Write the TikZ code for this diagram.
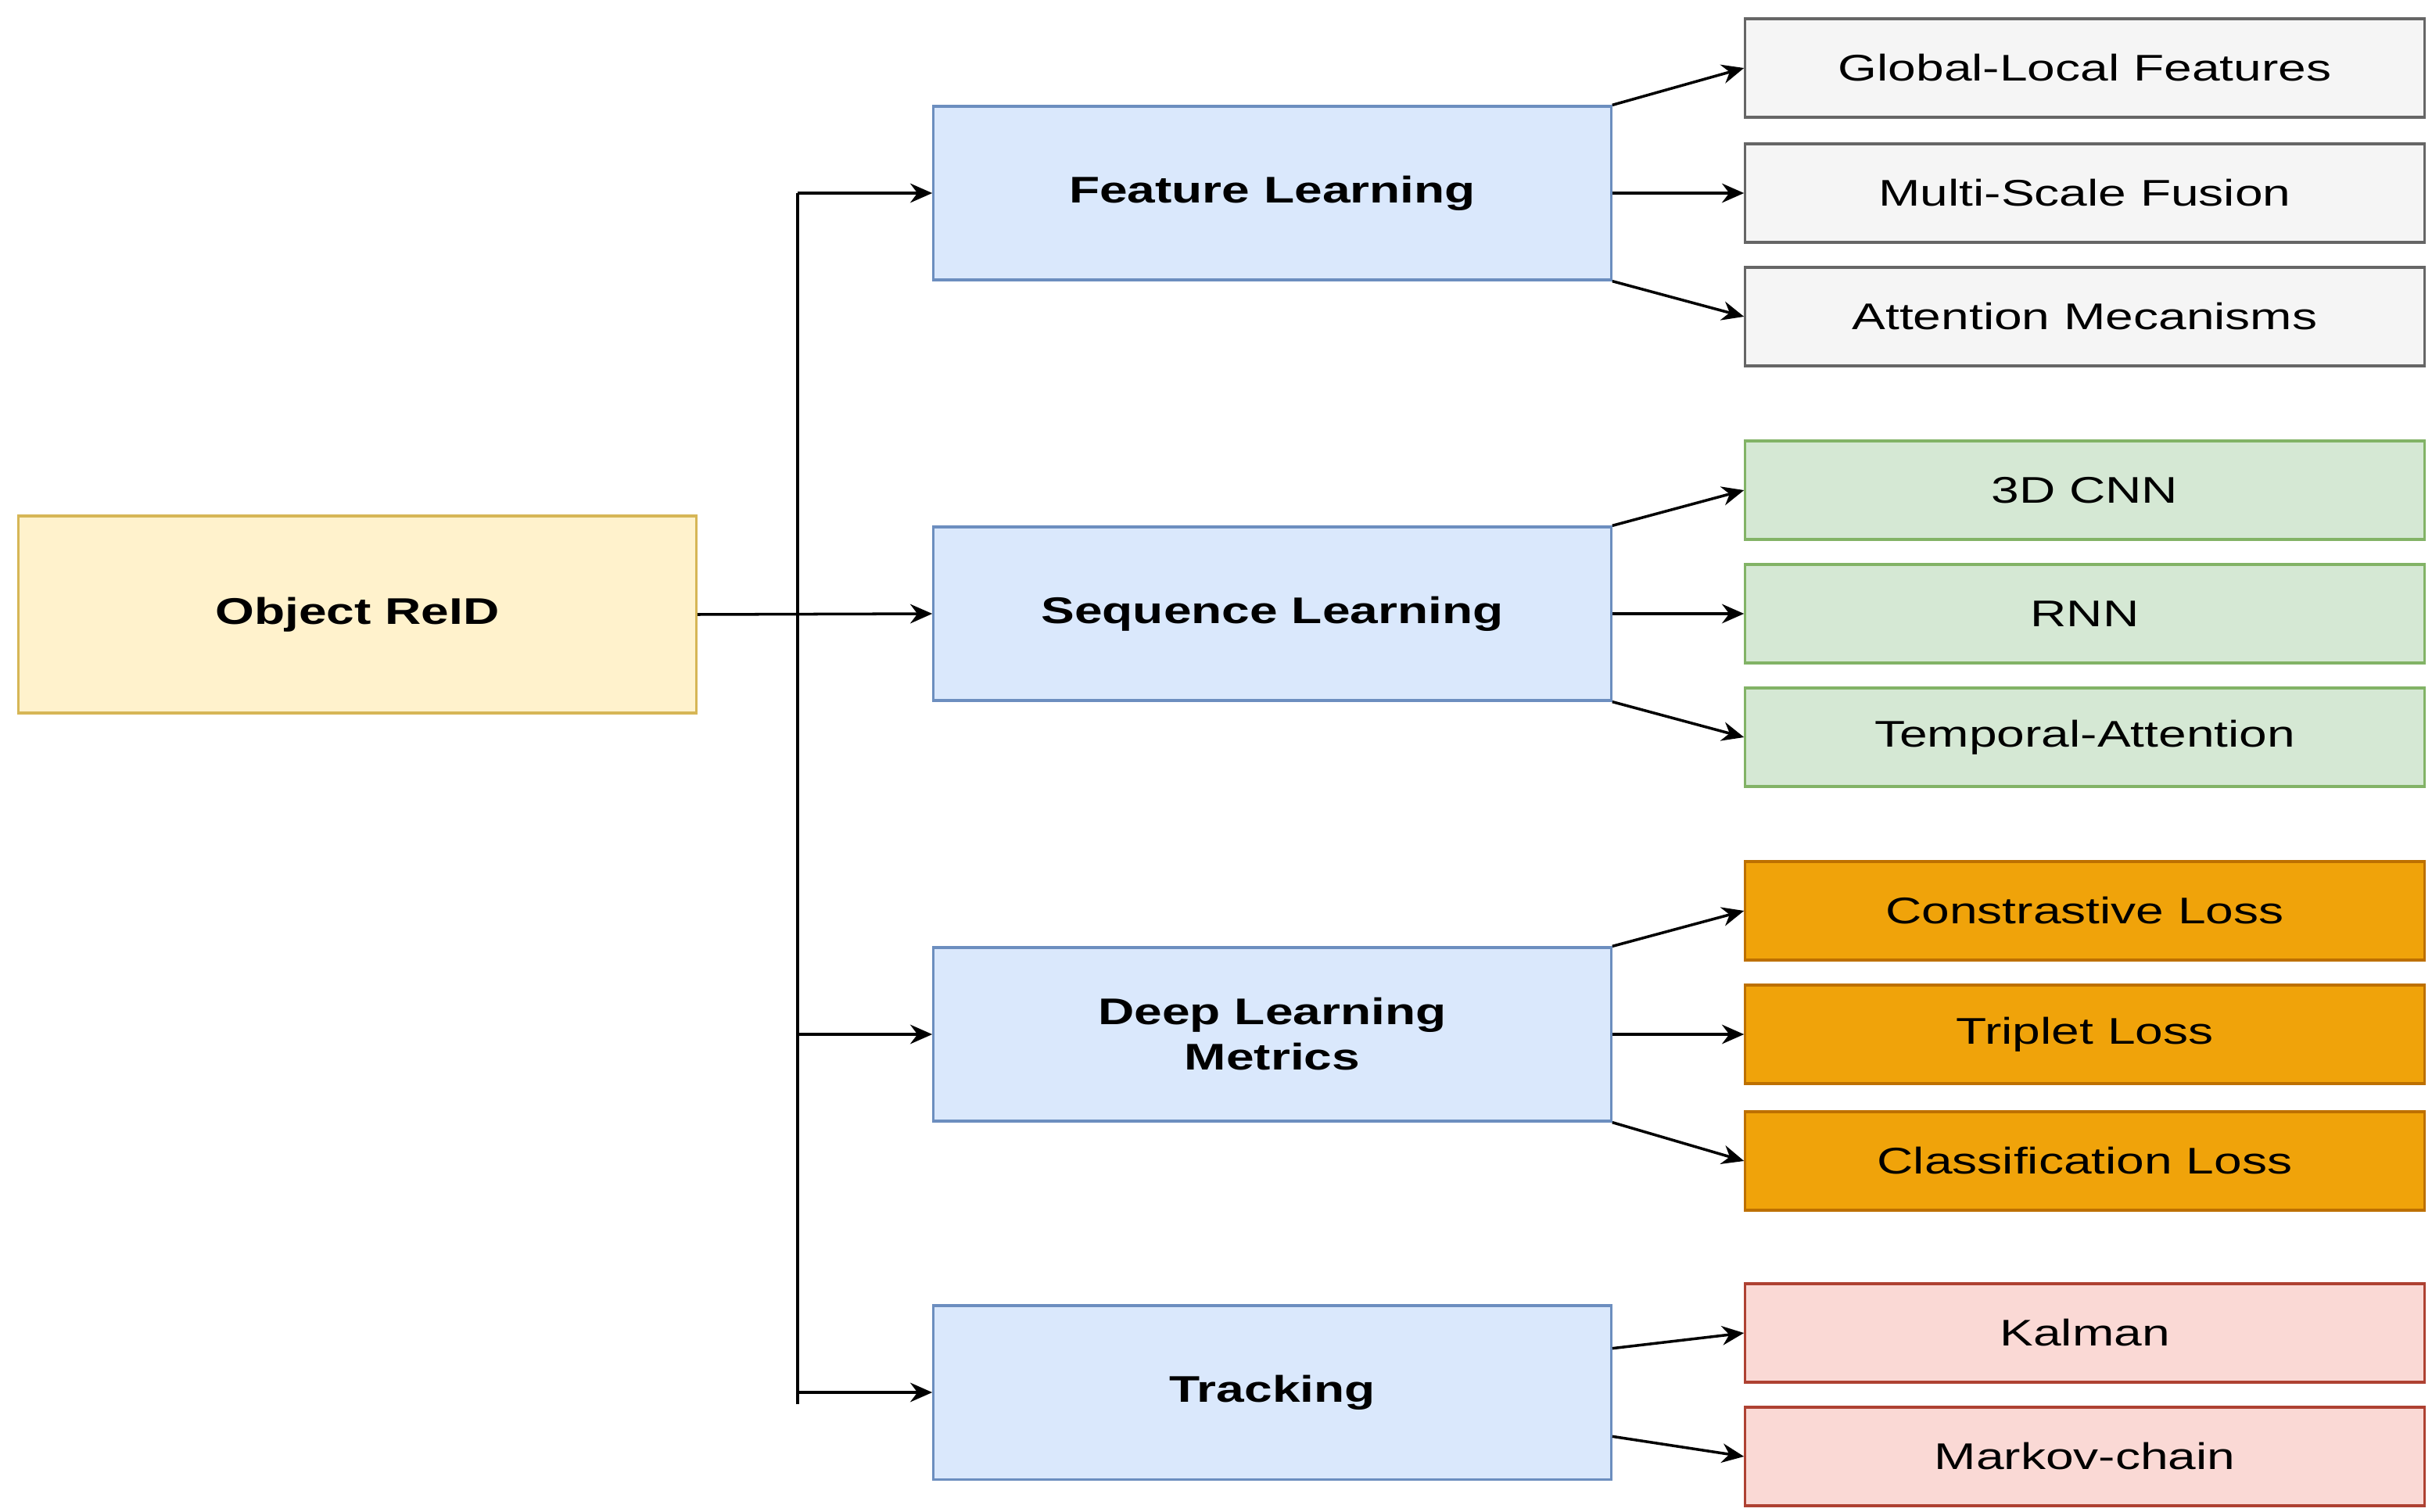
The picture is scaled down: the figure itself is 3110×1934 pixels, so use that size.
\documentclass[tikz,border=0pt]{standalone}
\usepackage{fontspec}
\setmainfont{Liberation Sans}[FakeStretch=1.35]
\usepackage{xcolor}
\usetikzlibrary{arrows.meta,calc}

\definecolor{bluefill}{HTML}{DAE8FC}
\definecolor{blueline}{HTML}{6C8EBF}
\definecolor{yellowfill}{HTML}{FFF2CC}
\definecolor{yellowline}{HTML}{D6B656}
\definecolor{grayfill}{HTML}{F5F5F5}
\definecolor{grayline}{HTML}{666666}
\definecolor{greenfill}{HTML}{D5E8D4}
\definecolor{greenline}{HTML}{82B366}
\definecolor{orangefill}{HTML}{F0A30A}
\definecolor{orangeline}{HTML}{BD7000}
\definecolor{redfill}{HTML}{FAD9D5}
\definecolor{redline}{HTML}{AE4132}

\begin{document}
\begin{tikzpicture}[x=0.01cm, y=-0.01cm,
  box/.style={draw, line width=0.9pt, inner sep=0pt, align=center,
    font=\fontsize{13.5}{16.5}\selectfont},
  root/.style={box, fill=yellowfill, draw=yellowline, minimum width=8.66cm, minimum height=2.52cm, font=\fontsize{13.5}{16.5}\selectfont\bfseries},
  branch/.style={box, fill=bluefill, draw=blueline, minimum width=8.66cm, minimum height=2.22cm, font=\fontsize{13.5}{16.5}\selectfont\bfseries},
  leaf/.style={box, minimum width=8.68cm, minimum height=1.26cm},
  arr/.style={-{Stealth[length=8pt, width=7pt]}, line width=1pt}]
\useasboundingbox (0,0) rectangle (3110,1934);
% left and middle column
\node[root] (obj) at (457,786) {Object ReID};
\node[branch] (feat) at (1627,247) {Feature Learning};
\node[branch] (seq) at (1627,785) {Sequence Learning};
\node[branch] (deep) at (1627,1323) {Deep Learning\\Metrics};
\node[branch] (trk) at (1627,1781) {Tracking};
% right column
\node[leaf, fill=grayfill, draw=grayline] (glf) at (2666,87) {Global-Local Features};
\node[leaf, fill=grayfill, draw=grayline] (msf) at (2666,247) {Multi-Scale Fusion};
\node[leaf, fill=grayfill, draw=grayline] (att) at (2666,405) {Attention Mecanisms};
\node[leaf, fill=greenfill, draw=greenline] (cnn) at (2666,627) {3D CNN};
\node[leaf, fill=greenfill, draw=greenline] (rnn) at (2666,785) {RNN};
\node[leaf, fill=greenfill, draw=greenline] (tmp) at (2666,943) {Temporal-Attention};
\node[leaf, fill=orangefill, draw=orangeline] (con) at (2666,1165) {Constrastive Loss};
\node[leaf, fill=orangefill, draw=orangeline] (tri) at (2666,1323) {Triplet Loss};
\node[leaf, fill=orangefill, draw=orangeline] (cls) at (2666,1485) {Classification Loss};
\node[leaf, fill=redfill, draw=redline] (kal) at (2666,1705) {Kalman};
\node[leaf, fill=redfill, draw=redline] (mkv) at (2666,1863) {Markov-chain};
% bus
\coordinate (bustop) at (1020,247);
\coordinate (busbot) at (1020,1796);
\draw[line width=1pt] (bustop) -- (busbot);
\draw[arr] (obj.east) -- (seq.west);
\draw[arr] (bustop) -- (feat.west);
\draw[arr] (bustop |- deep.west) -- (deep.west);
\draw[arr] (bustop |- trk.west) -- (trk.west);
% fan out
\draw[arr] (feat.north east) -- (glf.west);
\draw[arr] (feat.east) -- (msf.west);
\draw[arr] (feat.south east) -- (att.west);
\draw[arr] (seq.north east) -- (cnn.west);
\draw[arr] (seq.east) -- (rnn.west);
\draw[arr] (seq.south east) -- (tmp.west);
\draw[arr] (deep.north east) -- (con.west);
\draw[arr] (deep.east) -- (tri.west);
\draw[arr] (deep.south east) -- (cls.west);
\draw[arr] ($(trk.north east)!.25!(trk.south east)$) -- (kal.west);
\draw[arr] ($(trk.north east)!.75!(trk.south east)$) -- (mkv.west);
\end{tikzpicture}
\end{document}
